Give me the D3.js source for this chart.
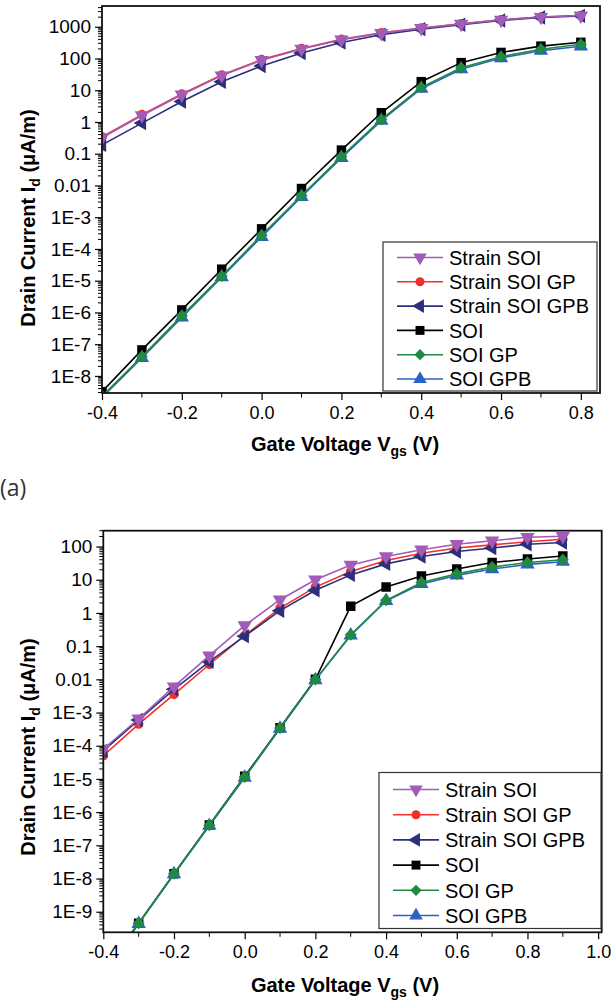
<!DOCTYPE html>
<html><head><meta charset="utf-8">
<script src="https://cdn.jsdelivr.net/npm/d3@7"></script>
<style>body{margin:0;background:#fff;} svg{display:block;font-family:"Liberation Sans",Arial,sans-serif;}</style>
</head><body>
<svg id="c" width="613" height="1005"></svg>
<script>
// ---------- DATA ----------
const seriesNames = ["Strain SOI","Strain SOI GP","Strain SOI GPB","SOI","SOI GP","SOI GPB"];
const seriesColors = ["#a35bb8","#f2302b","#2b2f7c","#000000","#1f8a40","#2b62c4"];
const seriesSymbols = ["triDown","circle","triLeft","square","diamond","triUp"];

// Panel (a)
const vgsA = [-0.4,-0.3,-0.2,-0.1,0.0,0.1,0.2,0.3,0.4,0.5,0.6,0.7,0.8];
const strainSOI_A    = [0.32,1.6,7.2,29,88,200,390,630,900,1220,1640,2020,2250];
const strainSOIGP_A  = [0.34,1.7,7.6,30,92,205,400,640,910,1230,1650,2030,2260];
const strainSOIGPB_A = [0.19,0.92,4.4,18.5,58,148,320,560,840,1150,1580,1950,2200];
const soi_A          = [3.2e-9,6.6e-8,1.2e-6,2.3e-5,4.3e-4,8.0e-3,0.13,1.95,18.6,74,155,245,323];
const soiGP_A        = [2.3e-9,4.1e-8,7.8e-7,1.4e-5,2.7e-4,4.8e-3,0.081,1.2,12.3,51,114,195,280];
const soiGPB_A       = [2.1e-9,3.7e-8,7.0e-7,1.3e-5,2.4e-4,4.4e-3,0.074,1.1,11.2,46,103,176,242];
const xTicksA = [-0.4,-0.2,0.0,0.2,0.4,0.6,0.8];
const xMinorA = [-0.3,-0.1,0.1,0.3,0.5,0.7];
const yTicksA = [1e-8,1e-7,1e-6,1e-5,1e-4,1e-3,0.01,0.1,1,10,100,1000];

// Panel (b)
const vgsB = [-0.4,-0.3,-0.2,-0.1,0.0,0.1,0.2,0.3,0.4,0.5,0.6,0.7,0.8,0.9];
const strainSOI_B    = [8e-5,6.5e-4,6.0e-3,0.052,0.42,2.5,10,28,50,80,117,150,190,205];
const strainSOIGP_B  = [5e-5,4.5e-4,3.5e-3,0.028,0.21,1.4,6,17.8,38,63,90,112,140,166];
const strainSOIGPB_B = [7e-5,6.0e-4,5.0e-3,0.034,0.20,1.17,4.8,14,30,50,71,90,117,132];
const soi_B          = [1.5e-11,4.5e-10,1.4e-8,4.1e-7,1.2e-5,3.5e-4,0.01,1.6,6,13,21,33,42,52];
const soiGP_B        = [1.5e-11,4.5e-10,1.4e-8,4.0e-7,1.15e-5,3.4e-4,0.0098,0.22,2.4,8.3,15,24,33,40];
const soiGPB_B       = [1.4e-11,4.3e-10,1.35e-8,3.9e-7,1.1e-5,3.3e-4,0.0095,0.21,2.3,7.5,13.5,21,29,35];
const xTicksB = [-0.4,-0.2,0.0,0.2,0.4,0.6,0.8,1.0];
const xMinorB = [-0.3,-0.1,0.1,0.3,0.5,0.7,0.9];
const yTicksB = [1e-9,1e-8,1e-7,1e-6,1e-5,1e-4,1e-3,0.01,0.1,1,10,100];

const panels = [
  {x: vgsA, ys:[strainSOI_A,strainSOIGP_A,strainSOIGPB_A,soi_A,soiGP_A,soiGPB_A],
   xDom:[-0.4,0.848], xR:[102,600], yDom:[2.9e-9,4500], yR:[393,6],
   xTicks:xTicksA, xMinor:xMinorA, yTicks:yTicksA,
   legend:{x:383,y:242,w:214,h:149,row0:257.5,dy:24.3},
   xTitleY:451, xTitleC:345, yTitleX:35, yTitleC:218},
  {x: vgsB, ys:[strainSOI_B,strainSOIGP_B,strainSOIGPB_B,soi_B,soiGP_B,soiGPB_B],
   xDom:[-0.4,1.01], xR:[103.3,601.7], yDom:[2.4e-10,300], yR:[932.3,530.7],
   xTicks:xTicksB, xMinor:xMinorB, yTicks:yTicksB,
   legend:{x:379,y:772.5,w:222,h:156,row0:789.5,dy:25.2},
   xTitleY:992, xTitleC:345, yTitleX:35, yTitleC:747}
];

const svg = d3.select("#c");

function symbolPath(kind, size){
  const s = size;
  if(kind==="circle") return d3.symbol(d3.symbolCircle, s*0.8)();
  if(kind==="square") return d3.symbol(d3.symbolSquare, s)();
  if(kind==="diamond") return d3.symbol(d3.symbolSquare, s*0.8)();
  return d3.symbol(d3.symbolTriangle, s)();
}
function symbolRot(kind){
  if(kind==="triDown") return 180;
  if(kind==="triLeft") return -90;
  if(kind==="diamond") return 45;
  return 0;
}
function fmtY(v){
  const e = Math.round(Math.log10(v));
  if(e>=-2) return String(+v.toPrecision(1));
  return "1E" + e;
}
function fmtX(v){ const s=(Math.abs(v)<1e-9?0:v).toFixed(1); return s; }

const drawOrder = [3,5,4,1,2,0];

panels.forEach((p,pi)=>{
  const x = d3.scaleLinear().domain(p.xDom).range(p.xR);
  const y = d3.scaleLog().domain(p.yDom).range(p.yR);
  const g = svg.append("g");
  const cid = "clip"+pi;
  svg.append("clipPath").attr("id",cid).append("rect")
    .attr("x",p.xR[0]).attr("y",p.yR[1]).attr("width",p.xR[1]-p.xR[0]).attr("height",p.yR[0]-p.yR[1]);

  // y axis (log) with minor ticks
  const yAx = d3.axisLeft(y).tickValues(p.yTicks).tickFormat(fmtY).tickSizeInner(7).tickSizeOuter(0).tickPadding(4);
  const yg = g.append("g").attr("transform",`translate(${p.xR[0]},0)`).call(yAx);
  yg.select(".domain").remove();
  yg.selectAll("text").style("font-size","19px").attr("fill","#000");
  const minors = [];
  const lo = Math.floor(Math.log10(p.yDom[0])), hi = Math.ceil(Math.log10(p.yDom[1]));
  for(let e=lo;e<=hi;e++) for(let m=2;m<=9;m++){ const v=m*Math.pow(10,e); if(v>=p.yDom[0]&&v<=p.yDom[1]) minors.push(v); }
  g.append("g").selectAll("line").data(minors).join("line")
    .attr("x1",p.xR[0]).attr("x2",p.xR[0]-4).attr("y1",d=>y(d)).attr("y2",d=>y(d))
    .attr("stroke","#000").attr("stroke-width",1);

  // x axis
  const xAx = d3.axisBottom(x).tickValues(p.xTicks).tickFormat(fmtX).tickSizeInner(7).tickSizeOuter(0).tickPadding(6);
  const xg = g.append("g").attr("transform",`translate(0,${p.yR[0]})`).call(xAx);
  xg.select(".domain").remove();
  xg.selectAll("text").style("font-size","18px").attr("fill","#000");
  g.append("g").selectAll("line").data(p.xMinor).join("line")
    .attr("x1",d=>x(d)).attr("x2",d=>x(d)).attr("y1",p.yR[0]).attr("y2",p.yR[0]+4.5)
    .attr("stroke","#000").attr("stroke-width",1);
  g.selectAll(".tick line").attr("stroke","#000").attr("stroke-width",1.2);

  // data
  const plot = g.append("g").attr("clip-path",`url(#${cid})`);
  const line = d3.line().x((d,i)=>x(p.x[i])).y(d=>y(d));
  drawOrder.forEach(si=>{
    const vals = p.ys[si];
    plot.append("path").attr("d",line(vals)).attr("fill","none")
      .attr("stroke",seriesColors[si]).attr("stroke-width",1.6);
    plot.append("g").selectAll("path").data(vals).join("path")
      .attr("d",symbolPath(seriesSymbols[si],90))
      .attr("transform",(d,i)=>`translate(${x(p.x[i])},${y(d)}) rotate(${symbolRot(seriesSymbols[si])})`)
      .attr("fill",seriesColors[si]);
  });

  // frame
  g.append("rect").attr("x",p.xR[0]).attr("y",p.yR[1]).attr("width",p.xR[1]-p.xR[0]).attr("height",p.yR[0]-p.yR[1])
    .attr("fill","none").attr("stroke","#111").attr("stroke-width",1.8);

  // legend
  const L = p.legend;
  const lg = g.append("g");
  lg.append("rect").attr("x",L.x).attr("y",L.y).attr("width",L.w).attr("height",L.h)
    .attr("fill","#fff").attr("stroke","#333").attr("stroke-width",1.2);
  seriesNames.forEach((name,si)=>{
    const yy = L.row0 + si*L.dy;
    lg.append("line").attr("x1",L.x+14).attr("x2",L.x+60).attr("y1",yy).attr("y2",yy)
      .attr("stroke",seriesColors[si]).attr("stroke-width",1.6);
    lg.append("path").attr("d",symbolPath(seriesSymbols[si],80))
      .attr("transform",`translate(${L.x+37},${yy}) rotate(${symbolRot(seriesSymbols[si])})`)
      .attr("fill",seriesColors[si]);
    lg.append("text").attr("x",L.x+66).attr("y",yy).attr("dy","0.36em")
      .style("font-size","20px").attr("fill","#000").text(name);
  });

  // axis titles
  const xt = g.append("text").attr("x",p.xTitleC).attr("y",p.xTitleY)
    .attr("text-anchor","middle").style("font-size","20px").style("font-weight","bold");
  xt.append("tspan").text("Gate Voltage V");
  xt.append("tspan").attr("dy",5).style("font-size","14px").text("gs");
  xt.append("tspan").attr("dy",-5).text(" (V)");

  const yt = g.append("text").attr("transform",`translate(${p.yTitleX},${p.yTitleC}) rotate(-90)`)
    .attr("text-anchor","middle").style("font-size","20px").style("font-weight","bold");
  yt.append("tspan").text("Drain Current I");
  yt.append("tspan").attr("dy",5).style("font-size","14px").text("d");
  yt.append("tspan").attr("dy",-5).text(" (\u03bcA/m)");
});

svg.append("text").attr("x",0).attr("y",496).style("font-family","'Open Sans',sans-serif")
  .style("font-size","23px").attr("fill","#333").text("(a)");
</script>
</body></html>
